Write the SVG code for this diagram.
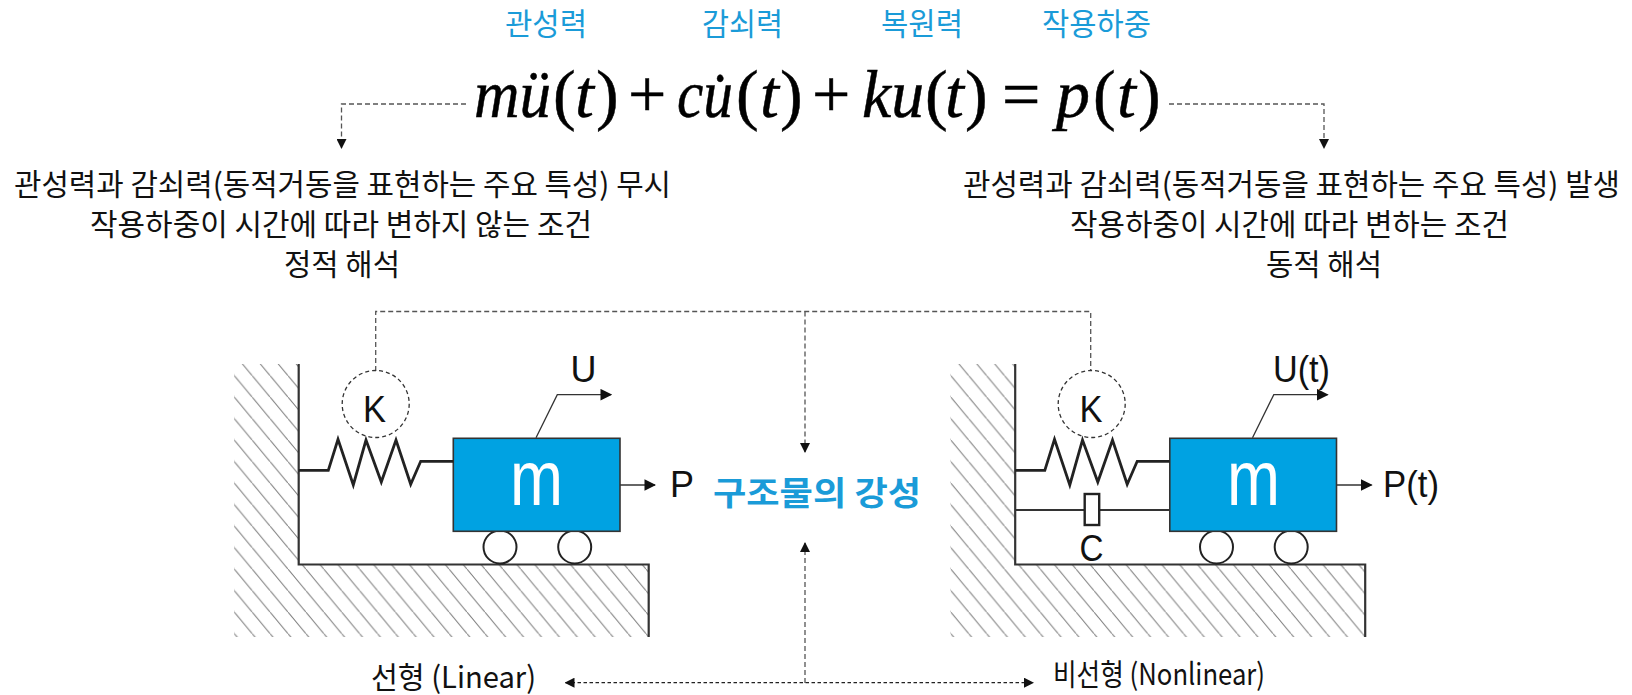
<svg xmlns="http://www.w3.org/2000/svg" width="1632" height="695" viewBox="0 0 1632 695">
<style>
text{font-family:"Liberation Sans","Noto Sans CJK KR",sans-serif;fill:#111}
.ko{font-family:"Noto Sans CJK KR","Liberation Sans",sans-serif}
.lab{font-size:30px;font-family:"Noto Sans CJK KR",sans-serif}
.top{font-size:31px}
.blue{fill:#1a9bd8}
.eq{font-family:"Liberation Serif",serif;font-size:68px;fill:#000;stroke:#000;stroke-width:.5}
.it{font-style:italic}
.dash{fill:none;stroke:#555;stroke-width:1.3;stroke-dasharray:5 3}
.dash2{fill:none;stroke:#222;stroke-width:1.3;stroke-dasharray:3.5 2.5}
.ring{fill:none;stroke:#333;stroke-width:1.3;stroke-dasharray:4 3}
.thin{fill:none;stroke:#333;stroke-width:1.3}
.heavy{fill:none;stroke:#222;stroke-width:2.8}
.wall{fill:none;stroke:#333;stroke-width:2.2}
.wheel{fill:#fff;stroke:#222;stroke-width:2}
.mass{fill:#00a2e2;stroke:#333;stroke-width:1.6}
.m{font-size:77px;fill:#fff}
.sym{font-size:37px}
</style>
<defs>
<pattern id="hatch" patternUnits="userSpaceOnUse" x="234.33" y="375.67" width="17.9" height="21.5">
<path d="M-1.79-2.15L19.69 23.65" stroke="#777" stroke-width="1" fill="none"/>
</pattern>
<marker id="ah" viewBox="0 0 10 10" refX="9" refY="5" markerWidth="10" markerHeight="10" markerUnits="userSpaceOnUse" orient="auto-start-reverse"><path d="M0 0L10 5L0 10Z" fill="#111"/></marker>
<marker id="ab" viewBox="0 0 10 10" refX="9" refY="5" markerWidth="9" markerHeight="9" markerUnits="strokeWidth" orient="auto"><path d="M0 0L10 5L0 10Z" fill="#111"/></marker>
<g id="system">
<path d="M234 364H298.7V564.5H648.7V637H234Z" fill="url(#hatch)"/>
<path class="wall" d="M298.7 364V564.5H648.7V637"/>
<circle cx="500" cy="547" r="16.5" class="wheel"/>
<circle cx="574.7" cy="547" r="16.5" class="wheel"/>
<rect x="453.3" y="438.3" width="166.7" height="93" class="mass"/>
<path class="heavy" d="M298.7 470.3H328.3L338 439.3L353.3 485L366 440L381.3 482L396 440L410.7 484.3L420.7 461.3H453.3"/>
<path class="thin" d="M536 437.7L557.3 394.7H611" marker-end="url(#ab)"/>
<path class="thin" d="M620 485H655" marker-end="url(#ab)"/>
</g>
</defs>
<g id="labels">
<text class="lab top blue" x="505" y="35" textLength="82" lengthAdjust="spacingAndGlyphs">관성력</text>
<text class="lab top blue" x="702" y="35" textLength="81" lengthAdjust="spacingAndGlyphs">감쇠력</text>
<text class="lab top blue" x="881" y="35" textLength="82" lengthAdjust="spacingAndGlyphs">복원력</text>
<text class="lab top blue" x="1042" y="35" textLength="109" lengthAdjust="spacingAndGlyphs">작용하중</text>
</g>
<g id="equation">
<text class="eq" y="117"><tspan class="it" x="474" y="117" textLength="77" lengthAdjust="spacingAndGlyphs">mü</tspan><tspan x="553" y="117">(</tspan><tspan class="it" x="575" y="117">t</tspan><tspan x="596" y="117">)</tspan><tspan x="628" y="117">+</tspan><tspan class="it" x="677" y="117" textLength="56" lengthAdjust="spacingAndGlyphs">cu̇</tspan><tspan x="736" y="117">(</tspan><tspan class="it" x="760" y="117">t</tspan><tspan x="780" y="117">)</tspan><tspan x="812" y="117">+</tspan><tspan class="it" x="862" y="117" textLength="62" lengthAdjust="spacingAndGlyphs">ku</tspan><tspan x="925" y="117">(</tspan><tspan class="it" x="945" y="117">t</tspan><tspan x="965" y="117">)</tspan><tspan x="1002" y="117">=</tspan><tspan class="it" x="1056" y="117">p</tspan><tspan x="1093" y="117">(</tspan><tspan class="it" x="1117" y="117">t</tspan><tspan x="1138" y="117">)</tspan></text>
</g>
<g id="static-text">
<text class="lab" x="14" y="195" textLength="657" lengthAdjust="spacingAndGlyphs">관성력과 감쇠력(동적거동을 표현하는 주요 특성) 무시</text>
<text class="lab" x="90" y="235" textLength="502" lengthAdjust="spacingAndGlyphs">작용하중이 시간에 따라 변하지 않는 조건</text>
<text class="lab" x="284" y="275" textLength="116" lengthAdjust="spacingAndGlyphs">정적 해석</text>
</g>
<g id="dynamic-text">
<text class="lab" x="963" y="195" textLength="657" lengthAdjust="spacingAndGlyphs">관성력과 감쇠력(동적거동을 표현하는 주요 특성) 발생</text>
<text class="lab" x="1070" y="235" textLength="439" lengthAdjust="spacingAndGlyphs">작용하중이 시간에 따라 변하는 조건</text>
<text class="lab" x="1266" y="275" textLength="116" lengthAdjust="spacingAndGlyphs">동적 해석</text>
</g>
<g id="connectors">
<path class="dash" d="M466 104H341.5V148" marker-end="url(#ah)"/>
<path class="dash" d="M1169 104H1324V148" marker-end="url(#ah)"/>
<path class="dash" d="M375.7 371V311.5H1090.7V371"/>
<path class="dash" d="M805 311.5V452" marker-end="url(#ah)"/>
<path class="dash" d="M805 683V543" marker-end="url(#ah)"/>
<path class="dash2" d="M565.5 682.7H1033" marker-start="url(#ah)" marker-end="url(#ah)"/>
</g>
<g id="linear-system">
<use href="#system"/>
<circle cx="375.7" cy="404" r="33.5" class="ring"/>
<text class="sym" x="363" y="421.7" textLength="23" lengthAdjust="spacingAndGlyphs">K</text>
<text class="m" x="510" y="505" textLength="53" lengthAdjust="spacingAndGlyphs">m</text>
<text class="sym" x="570.5" y="381.7" textLength="26" lengthAdjust="spacingAndGlyphs">U</text>
<text class="sym" x="670" y="496.7" textLength="24" lengthAdjust="spacingAndGlyphs">P</text>
</g>
<g id="nonlinear-system">
<use href="#system" x="716.5"/>
<circle cx="1091.7" cy="404" r="33.5" class="ring"/>
<path class="wall" d="M1015.3 510H1084M1100 510H1169"/>
<rect x="1084.7" y="494" width="14.5" height="31" fill="#fff" stroke="#222" stroke-width="2.4"/>
<text class="sym" x="1079.5" y="421.7" textLength="23" lengthAdjust="spacingAndGlyphs">K</text>
<text class="sym" x="1079.5" y="560.7" textLength="24" lengthAdjust="spacingAndGlyphs">C</text>
<text class="m" x="1227" y="505" textLength="53" lengthAdjust="spacingAndGlyphs">m</text>
<text class="sym" x="1273" y="381.7" textLength="57" lengthAdjust="spacingAndGlyphs">U(t)</text>
<text class="sym" x="1383" y="497" textLength="56" lengthAdjust="spacingAndGlyphs">P(t)</text>
</g>
<g id="center-labels">
<text class="ko blue" x="713" y="505" font-size="33" font-weight="700" textLength="208" lengthAdjust="spacingAndGlyphs">구조물의 강성</text>
<text class="lab" x="371" y="688" textLength="165" lengthAdjust="spacingAndGlyphs">선형 (Linear)</text>
<text class="lab" x="1053" y="685" textLength="212" lengthAdjust="spacingAndGlyphs">비선형 (Nonlinear)</text>
</g>
</svg>
